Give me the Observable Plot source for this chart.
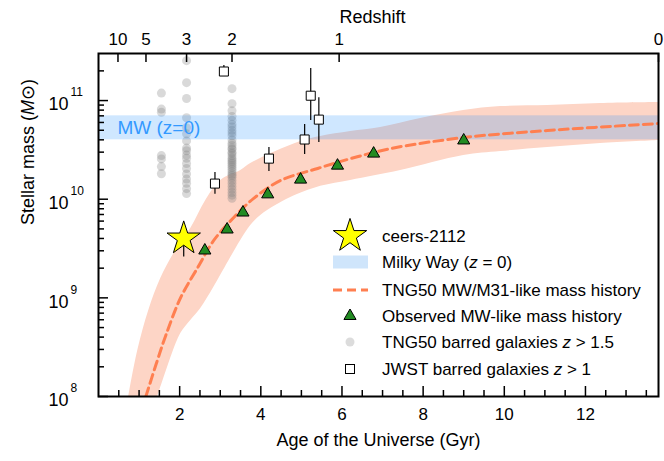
<!DOCTYPE html>
<html>
<head>
<meta charset="utf-8">
<script src="https://cdn.jsdelivr.net/npm/d3@7"></script>
<script src="https://cdn.jsdelivr.net/npm/@observablehq/plot@0.6"></script>
<style>
  body { margin: 0; background: #fff; }
  #chart svg { display: block; }
</style>
</head>
<body>
<div id="chart"></div>
<script>
// ---------- data ----------
// TNG50 MW/M31-like mass history: envelope (upper / lower edges) and median (dashed)
const bandUpperAge  = [0.746, 0.968, 1.239, 1.534, 1.904, 2.273, 2.643, 3.012, 3.505, 3.751, 4.369, 4.983, 5.475, 6.214, 6.953, 7.938, 8.997, 9.909, 11.067, 12.372, 13.8];
const bandUpperMass = [1.0e8, 2.93e8, 7.45e8, 1.57e9, 3.02e9, 5.05e9, 9.7e9, 1.55e10, 1.95e10, 2.30e10, 3.04e10, 3.85e10, 4.32e10, 4.85e10, 5.33e10, 6.58e10, 7.93e10, 8.69e10, 8.89e10, 9.33e10, 9.55e10];
const bandLowerAge  = [1.461, 1.658, 1.830, 2.027, 2.273, 2.520, 2.840, 3.259, 3.505, 3.751, 3.998, 4.367, 4.737, 5.476, 6.214, 7.446, 8.998, 9.909, 11.067, 12.372, 13.8];
const bandLowerMass = [1.0e8, 1.75e8, 2.80e8, 4.36e8, 5.90e8, 7.81e8, 1.27e9, 2.56e9, 3.82e9, 5.42e9, 6.84e9, 8.63e9, 1.04e10, 1.35e10, 1.55e10, 1.95e10, 2.77e10, 3.04e10, 3.34e10, 3.67e10, 3.94e10];
const tngLineAge  = [1.167, 1.411, 1.658, 2.027, 2.446, 2.840, 3.333, 3.825, 4.490, 5.401, 6.214, 7.200, 8.998, 11.067, 13.8];
const tngLineMass = [1.0e8, 2.07e8, 4.16e8, 1.01e9, 2.03e9, 3.82e9, 6.53e9, 1.02e10, 1.55e10, 2.05e10, 2.58e10, 3.26e10, 4.22e10, 4.97e10, 5.85e10];

// Observed MW-like mass history (triangles)
const obsAge  = [2.62, 3.17, 3.56, 4.17, 4.98, 5.89, 6.78, 9.00];
const obsMass = [3.02e9, 4.93e9, 7.33e9, 1.12e10, 1.58e10, 2.19e10, 2.90e10, 3.94e10];

// TNG50 barred galaxies z > 1.5 (three snapshots: z = 4, 3, 2)
const tngBarAges = [1.55, 2.17, 3.29];
const tngBarZ4 = [1.19e11, 8.2e10, 7.6e10, 2.77e10, 2.56e10, 2.14e10, 1.81e10];
const tngBarZ3 = [2.54e11, 1.52e11, 1.05e11, 6.7e10, 5.3e10, 4.6e10, 3.9e10, 3.3e10, 3.1e10, 2.8e10, 2.6e10, 2.3e10, 2.05e10, 1.8e10, 1.6e10, 1.45e10, 1.28e10, 1.14e10];
const tngBarZ2 = [1.32e11, 9.3e10, 7.9e10, 6.9e10, 6.3e10, 5.75e10, 5.4e10, 5.0e10, 4.7e10, 4.4e10, 4.0e10, 3.7e10, 3.5e10, 3.3e10, 3.2e10, 3.0e10, 2.9e10, 2.75e10, 2.6e10, 2.5e10, 2.4e10, 2.3e10, 2.2e10, 2.1e10, 2.0e10, 1.9e10, 1.8e10, 1.74e10, 1.66e10, 1.55e10, 1.45e10, 1.35e10, 1.26e10, 1.17e10, 1.1e10, 1.02e10];

// JWST barred galaxies z > 1 (squares with error bars)
const jwstAge  = [2.87, 3.09, 4.20, 5.08, 5.23, 5.43];
const jwstMass = [1.44e10, 1.97e11, 2.58e10, 4.03e10, 1.12e11, 6.41e10];
const jwstLo   = [1.12e10, 1.80e11, 1.91e10, 2.84e10, 6.27e10, 3.75e10];
const jwstHi   = [1.87e10, 2.27e11, 3.34e10, 5.71e10, 2.11e11, 1.07e11];

// ceers-2112
const starAge = [2.10], starMass = [4.0e9], starLo = [2.6e9], starHi = [5.5e9];

// Milky Way (z = 0) band
const mwLow = 4.0e10, mwHigh = 7.0e10;

// axes
const xDomain = [0, 13.8];
const yDomain = [1e8, 3e11];
const xMajor = [2, 4, 6, 8, 10, 12];
const xMinor = [0.5, 1, 1.5, 2.5, 3, 3.5, 4.5, 5, 5.5, 6.5, 7, 7.5, 8.5, 9, 9.5, 10.5, 11, 11.5, 12.5, 13, 13.5];
const yMajor = [1e8, 1e9, 1e10, 1e11];
const yExps  = ["8", "9", "10", "11"];
const yMinor = [2e8,3e8,4e8,5e8,6e8,7e8,8e8,9e8, 2e9,3e9,4e9,5e9,6e9,7e9,8e9,9e9, 2e10,3e10,4e10,5e10,6e10,7e10,8e10,9e10, 2e11];
const zAges  = [0.48, 1.17, 2.17, 3.29, 5.93, 13.8];
const zLabels = ["10", "5", "3", "2", "1", "0"];

const legendLabels = ["ceers-2112", "Milky Way (z = 0)", "TNG50 MW/M31-like mass history", "Observed MW-like mass history", "TNG50 barred galaxies z > 1.5", "JWST barred galaxies z > 1"];

// ---------- build tables ----------
const band = bandUpperAge.map((a, i) => ({x1: a, y1: bandUpperMass[i], x2: bandLowerAge[i], y2: bandLowerMass[i]}));
const tngLine = tngLineAge.map((a, i) => ({age: a, mass: tngLineMass[i]}));
const obs = obsAge.map((a, i) => ({age: a, mass: obsMass[i]}));
const tngBar = [
  ...tngBarZ4.map(m => ({age: tngBarAges[0], mass: m})),
  ...tngBarZ3.map(m => ({age: tngBarAges[1], mass: m})),
  ...tngBarZ2.map(m => ({age: tngBarAges[2], mass: m}))
];
const jwst = jwstAge.map((a, i) => ({age: a, mass: jwstMass[i], lo: jwstLo[i], hi: jwstHi[i]}));
const star = starAge.map((a, i) => ({age: a, mass: starMass[i], lo: starLo[i], hi: starHi[i]}));

const W = 664, H = 461, mL = 98, mR = 6, mT = 53, mB = 65;
const fh = H - mT - mB, fw = W - mL - mR;
const FONT = "'Liberation Sans', Arial, Helvetica, sans-serif";

const svg = Plot.plot({
  width: W, height: H,
  marginLeft: mL, marginRight: mR, marginTop: mT, marginBottom: mB,
  style: {fontFamily: FONT, background: "#fff", color: "#000"},
  x: {domain: xDomain, axis: null},
  y: {type: "log", domain: yDomain, axis: null},
  marks: [
    Plot.area(band, {x1: "x1", y1: "y1", x2: "x2", y2: "y2", fill: "#fdd5c6", curve: "catmull-rom", clip: true}),
    Plot.dot(tngBar, {x: "age", y: "mass", r: 4.5, fill: "#808080", fillOpacity: 0.3}),
    Plot.rect([{lo: mwLow, hi: mwHigh}], {x1: () => xDomain[0], x2: () => xDomain[1], y1: "lo", y2: "hi", fill: "#1e90ff", fillOpacity: 0.21}),
    Plot.line(tngLine, {x: "age", y: "mass", stroke: "#ff7f50", strokeWidth: 3, strokeDasharray: "9,5", curve: "catmull-rom", clip: true}),
    Plot.ruleX(jwst, {x: "age", y1: "lo", y2: "hi", stroke: "#000", strokeWidth: 1.2}),
    Plot.dot(jwst, {x: "age", y: "mass", symbol: "square", r: 5.1, fill: "#fff", stroke: "#000", strokeWidth: 1}),
    Plot.dot(obs, {x: "age", y: "mass", symbol: "triangle", r: 4.5, fill: "#228b22", stroke: "#000", strokeWidth: 1}),
    Plot.ruleX(star, {x: "age", y1: "lo", y2: "hi", stroke: "#000", strokeWidth: 1.2}),
    Plot.dot(star, {x: "age", y: "mass", symbol: "star", r: 10.5, fill: "#ffff00", stroke: "#000", strokeWidth: 1}),
    Plot.text(["MW (z=0)"], {text: d => d, frameAnchor: "left", y: () => Math.sqrt(mwLow * mwHigh), dx: 19, textAnchor: "start", fill: "#3399ff", fontSize: 19}),
    // ticks (inward)
    Plot.ruleX(xMajor, {x: d => d, insetTop: fh - 10, stroke: "#000", strokeWidth: 1.5}),
    Plot.ruleX(xMinor, {x: d => d, insetTop: fh - 6, stroke: "#000", strokeWidth: 1.5}),
    Plot.ruleX(zAges, {x: d => d, insetBottom: fh - 9, stroke: "#000", strokeWidth: 1.5}),
    Plot.ruleY(yMajor, {y: d => d, insetRight: fw - 10, stroke: "#000", strokeWidth: 1.5}),
    Plot.ruleY(yMinor, {y: d => d, insetRight: fw - 6, stroke: "#000", strokeWidth: 1.5}),
    Plot.frame({stroke: "#000", strokeWidth: 2}),
    // tick labels
    Plot.text(xMajor, {x: d => d, text: d => String(d), frameAnchor: "bottom", dy: 23, fontSize: 17, fill: "#000"}),
    Plot.text(zAges, {x: d => d, text: (d, i) => zLabels[i], frameAnchor: "top", dy: -21, fontSize: 17, fill: "#000"}),
    Plot.text(yMajor, {y: d => d, text: () => "10", frameAnchor: "left", dx: -30, dy: 4, textAnchor: "end", fontSize: 18, fill: "#000"}),
    Plot.text(yMajor, {y: d => d, text: (d, i) => yExps[i], frameAnchor: "left", dx: -28, dy: -8, textAnchor: "start", fontSize: 12, fill: "#000"}),
    // axis labels
    Plot.text(["Age of the Universe (Gyr)"], {text: d => d, frameAnchor: "bottom", dy: 49, fontSize: 18, fill: "#000"}),
    Plot.text(["Redshift"], {text: d => d, frameAnchor: "top", dy: -43, dx: -6, fontSize: 18, fill: "#000"}),
    Plot.text(["Stellar mass (M⊙)"], {text: d => d, frameAnchor: "left", dx: -70, rotate: -90, fontSize: 18, fill: "#000"})
  ]
});

// italic fragments
function italicize(el, parts) {
  el.textContent = "";
  for (const [s, it] of parts) {
    const t = document.createElementNS("http://www.w3.org/2000/svg", "tspan");
    t.textContent = s;
    if (it) t.setAttribute("font-style", "italic");
    el.appendChild(t);
  }
}
d3.select(svg).selectAll("text").each(function () {
  if (this.textContent === "Stellar mass (M⊙)") italicize(this, [["Stellar mass (", false], ["M", true], ["⊙)", false]]);
});

// legend
const lg = d3.select(svg).append("g").attr("font-family", FONT).attr("font-size", 17).attr("text-anchor", "start");
const lx = 350, tx = 382, rows = [236, 262, 290, 316, 342, 369];
lg.append("path").attr("d", d3.symbol(d3.symbolStar, Math.PI * 10.5 * 10.5)())
  .attr("transform", `translate(${lx},${rows[0]})`).attr("fill", "#ffff00").attr("stroke", "#000");
lg.append("rect").attr("x", 333).attr("y", rows[1] - 6.5).attr("width", 35).attr("height", 13).attr("fill", "#cfe5fb");
lg.append("line").attr("x1", 333).attr("x2", 368).attr("y1", rows[2]).attr("y2", rows[2])
  .attr("stroke", "#ff7f50").attr("stroke-width", 3).attr("stroke-dasharray", "9,5");
lg.append("path").attr("d", d3.symbol(d3.symbolTriangle, Math.PI * 4.5 * 4.5)())
  .attr("transform", `translate(${lx},${rows[3]})`).attr("fill", "#228b22").attr("stroke", "#000");
lg.append("circle").attr("cx", lx).attr("cy", rows[4]).attr("r", 4.5).attr("fill", "#dcdcdc");
lg.append("rect").attr("x", lx - 4.5).attr("y", rows[5] - 4.5).attr("width", 9).attr("height", 9)
  .attr("fill", "#fff").attr("stroke", "#000");
const italicParts = [
  [[legendLabels[0], false]],
  [["Milky Way (", false], ["z", true], [" = 0)", false]],
  [[legendLabels[2], false]],
  [[legendLabels[3], false]],
  [["TNG50 barred galaxies ", false], ["z", true], [" > 1.5", false]],
  [["JWST barred galaxies ", false], ["z", true], [" > 1", false]]
];
legendLabels.forEach((lab, i) => {
  const t = lg.append("text").attr("x", tx).attr("y", rows[i]).attr("dy", "0.35em")
    .attr("text-anchor", "start").attr("fill", "#000").text(lab);
  italicize(t.node(), italicParts[i]);
});

document.getElementById("chart").appendChild(svg);
</script>
</body>
</html>
